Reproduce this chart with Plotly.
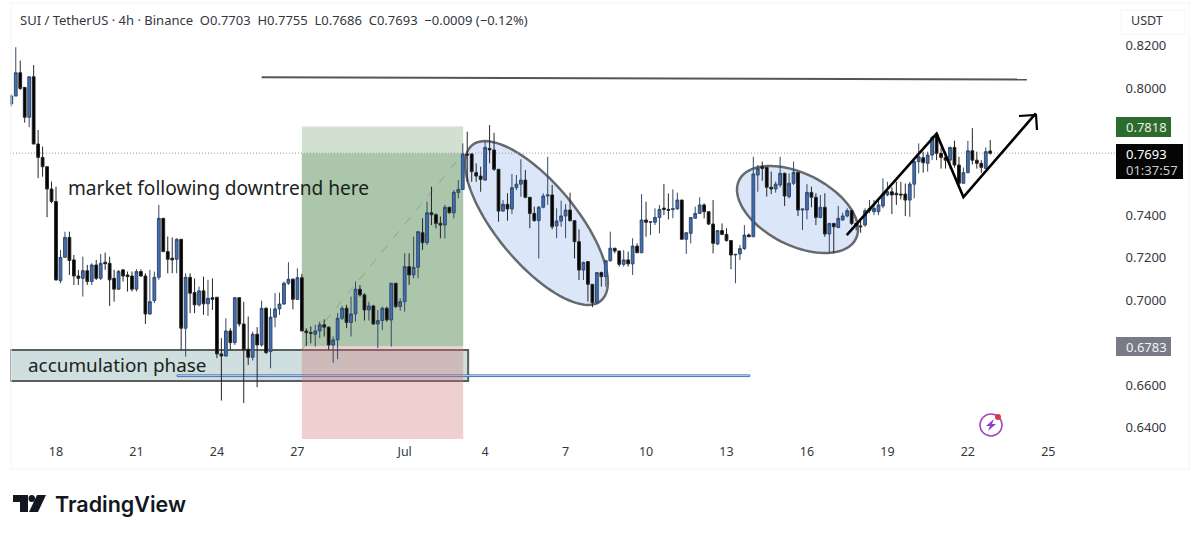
import math
import plotly.graph_objects as go

# 4h SUI/USDT candles, first bar index is -10; index 0 is 18 June 00:00
opens = [
    .7925,.7962,.8072,.8003,.7862,.8053,.7736,.7673,.7629,.7524,
    .7465,.7092,.7202,.7296,.7190,.7114,.7103,.7139,.7088,.7166,
    .7103,.7179,.7174,.7103,.7052,.7143,.7119,.7114,.7052,.7135,
    .7114,.6935,.6998,.7108,.7386,.7229,.7198,.7193,.7287,.6868,
    .7108,.7036,.6978,.7044,.6983,.7012,.7014,.6747,.6737,.6855,
    .6800,.7012,.6888,.6769,.6731,.6840,.6789,.6962,.6758,.6920,
    .6959,.6982,.7080,.7099,.7004,.7106,.6855,.6847,.6840,.6855,
    .6884,.6873,.6789,.6813,.6915,.6962,.6895,.6935,.7052,.7025,
    .6954,.6973,.6888,.6904,.6962,.6907,.7080,.6970,.6993,.7158,
    .7119,.7155,.7318,.7271,.7412,.7403,.7362,.7354,.7438,.7412,
    .7508,.7522,.7689,.7689,.7601,.7585,.7566,.7715,.7708,.7617,
    .7420,.7452,.7430,.7530,.7547,.7566,.7485,.7409,.7375,.7438,
    .7491,.7496,.7350,.7373,.7397,.7425,.7375,.7276,.7142,.7182,
    .7075,.6989,.7130,.7111,.7186,.7245,.7232,.7169,.7190,.7171,
    .7255,.7224,.7378,.7367,.7367,.7390,.7434,.7428,.7427,.7431,
    .7472,.7287,.7315,.7386,.7409,.7449,.7417,.7359,.7265,.7328,
    .7310,.7281,.7213,.7218,.7243,.7307,.7299,.7590,.7629,.7626,
    .7532,.7524,.7543,.7598,.7488,.7551,.7602,.7425,.7425,.7508,
    .7485,.7390,.7438,.7312,.7362,.7343,.7378,.7397,.7422,.7362,
    .7350,.7354,.7422,.7417,.7417,.7444,.7496,.7511,.7504,.7500,
    .7500,.7472,.7547,.7653,.7671,.7645,.7684,.7783,.7692,.7673,
    .7660,.7720,.7637,.7551,.7601,.7704,.7660,.7645,.7621,.7703,
]
highs = [
    .7970,.8192,.8129,.8003,.8053,.8108,.7802,.7724,.7629,.7559,
    .7535,.7237,.7323,.7323,.7213,.7143,.7205,.7166,.7174,.7190,
    .7218,.7224,.7205,.7143,.7143,.7146,.7135,.7135,.7146,.7146,
    .7127,.7143,.7135,.7449,.7386,.7300,.7296,.7292,.7287,.7127,
    .7127,.7103,.7064,.7111,.7096,.7103,.7014,.6821,.6915,.6868,
    .7012,.7012,.6993,.6923,.6852,.6873,.6998,.6967,.6962,.7033,
    .7036,.7088,.7179,.7103,.7150,.7124,.6868,.6876,.6884,.6899,
    .6910,.6876,.6829,.6939,.6973,.6978,.7017,.7088,.7072,.7033,
    .6993,.6978,.6954,.6970,.6970,.7080,.7080,.7009,.7221,.7221,
    .7299,.7323,.7386,.7464,.7535,.7409,.7394,.7449,.7438,.7519,
    .7566,.7739,.7794,.7692,.7645,.7629,.7747,.7825,.7789,.7617,
    .7472,.7504,.7595,.7590,.7664,.7613,.7485,.7441,.7444,.7504,
    .7676,.7543,.7433,.7469,.7453,.7507,.7375,.7334,.7182,.7182,
    .7075,.7130,.7135,.7190,.7323,.7245,.7232,.7236,.7229,.7292,
    .7268,.7500,.7464,.7373,.7433,.7449,.7547,.7503,.7522,.7507,
    .7472,.7318,.7390,.7441,.7485,.7456,.7417,.7472,.7328,.7362,
    .7339,.7281,.7218,.7260,.7354,.7315,.7676,.7637,.7653,.7626,
    .7606,.7559,.7676,.7601,.7598,.7653,.7602,.7430,.7547,.7535,
    .7504,.7496,.7504,.7362,.7362,.7444,.7412,.7433,.7422,.7362,
    .7378,.7433,.7472,.7472,.7480,.7574,.7558,.7532,.7558,.7558,
    .7550,.7558,.7660,.7739,.7700,.7700,.7775,.7786,.7720,.7700,
    .7724,.7752,.7676,.7625,.7751,.7811,.7700,.7660,.7720,.7755,
]
lows = [
    .7912,.7962,.7990,.7837,.7815,.7736,.7575,.7582,.7391,.7457,
    .7095,.7080,.7202,.7119,.7072,.7072,.7017,.7072,.7072,.7095,
    .7095,.7143,.6973,.6993,.7048,.7088,.7041,.7041,.7041,.7111,
    .6888,.6931,.6986,.7096,.7229,.7127,.7127,.7127,.6766,.6734,
    .6939,.6939,.6970,.6931,.6926,.6954,.6727,.6527,.6734,.6766,
    .6789,.6876,.6515,.6695,.6716,.6590,.6781,.6747,.6679,.6873,
    .6931,.6978,.7072,.6957,.7001,.6855,.6785,.6797,.6781,.6821,
    .6829,.6766,.6706,.6722,.6907,.6868,.6829,.6899,.7017,.6904,
    .6904,.6884,.6774,.6860,.6899,.6781,.6962,.6950,.6946,.7072,
    .7103,.7103,.7237,.7260,.7354,.7339,.7292,.7292,.7409,.7386,
    .7480,.7520,.7558,.7558,.7558,.7511,.7563,.7645,.7610,.7370,
    .7417,.7375,.7406,.7519,.7488,.7480,.7339,.7370,.7197,.7433,
    .7449,.7334,.7292,.7346,.7292,.7370,.7197,.7095,.7095,.6993,
    .6967,.6982,.7064,.7064,.7182,.7221,.7158,.7158,.7158,.7119,
    .7221,.7221,.7299,.7307,.7354,.7315,.7401,.7381,.7386,.7425,
    .7287,.7218,.7268,.7386,.7406,.7386,.7354,.7221,.7260,.7307,
    .7276,.7146,.7080,.7190,.7237,.7299,.7299,.7511,.7563,.7488,
    .7500,.7507,.7532,.7444,.7480,.7543,.7397,.7331,.7381,.7438,
    .7354,.7386,.7299,.7221,.7221,.7339,.7375,.7390,.7354,.7330,
    .7318,.7346,.7410,.7401,.7401,.7433,.7490,.7406,.7449,.7475,
    .7397,.7393,.7480,.7598,.7601,.7606,.7660,.7660,.7620,.7620,
    .7620,.7625,.7540,.7551,.7598,.7640,.7620,.7600,.7621,.7686,
]
closes = [
    .7962,.8072,.7998,.7862,.8053,.7736,.7673,.7629,.7524,.7465,
    .7095,.7202,.7296,.7187,.7114,.7103,.7139,.7088,.7166,.7103,
    .7174,.7172,.7096,.7052,.7135,.7114,.7111,.7052,.7135,.7114,
    .6935,.6993,.7108,.7386,.7229,.7193,.7190,.7287,.6868,.7108,
    .7033,.6978,.7044,.6983,.7009,.7004,.6747,.6737,.6855,.6800,
    .7012,.6888,.6766,.6731,.6840,.6789,.6962,.6753,.6920,.6959,
    .6982,.7080,.7099,.7004,.7106,.6855,.6847,.6844,.6855,.6884,
    .6873,.6789,.6813,.6915,.6962,.6895,.6935,.7052,.7025,.6954,
    .6973,.6888,.6904,.6962,.6907,.7080,.6970,.6993,.7158,.7119,
    .7155,.7323,.7271,.7412,.7403,.7362,.7354,.7438,.7412,.7508,
    .7522,.7689,.7684,.7606,.7585,.7569,.7720,.7708,.7617,.7420,
    .7452,.7430,.7530,.7547,.7566,.7485,.7409,.7375,.7438,.7491,
    .7496,.7346,.7373,.7397,.7425,.7375,.7276,.7142,.7178,.7075,
    .6989,.7130,.7111,.7186,.7245,.7232,.7169,.7190,.7171,.7255,
    .7224,.7378,.7367,.7370,.7390,.7428,.7428,.7424,.7431,.7472,
    .7287,.7318,.7390,.7409,.7449,.7417,.7359,.7268,.7328,.7310,
    .7281,.7213,.7216,.7243,.7307,.7299,.7595,.7621,.7621,.7532,
    .7524,.7547,.7598,.7491,.7551,.7602,.7425,.7430,.7508,.7485,
    .7390,.7438,.7312,.7362,.7346,.7386,.7397,.7422,.7362,.7350,
    .7346,.7422,.7433,.7433,.7449,.7500,.7511,.7496,.7497,.7496,
    .7472,.7547,.7653,.7676,.7648,.7684,.7767,.7692,.7673,.7660,
    .7720,.7637,.7551,.7601,.7704,.7660,.7645,.7626,.7700,.7693,
]
bar_index = list(range(-10, len(opens) - 10))

date_ticks = [0, 18, 36, 54, 78, 96, 114, 132, 150, 168, 186, 204, 222]
date_labels = ["18", "21", "24", "27", "Jul", "4", "7", "10", "13", "16", "19", "22", "25"]
price_ticks = [0.82, 0.80, 0.74, 0.72, 0.70, 0.66, 0.64]
price_labels = ["0.8200", "0.8000", "0.7400", "0.7200", "0.7000", "0.6600", "0.6400"]

last_price = 0.7693
target_price = 0.7818
entry_price = 0.6783
stop_price = 0.6346
resistance = [(46.0, 0.8051), (217.2, 0.8040)]
support_band = [(27.1, 0.6650), (155.2, 0.6640)]
accumulation = (-10.3, 92.2, 0.6619, 0.6765)
position_bars = (55.0, 91.1)
swing_path = [(176.9, 0.7307), (197.0, 0.7785), (203.0, 0.7486)]
swing_tip = (219.2, 0.7880)

# Plot rectangle in page pixels
W, H = 1200, 537
L, R, T, B = 10, 1116, 10, 442
BAR_PX = 4.47
PRICE_PX = 2122.0
x_range = [-(56 - L) / BAR_PX, (R - 56) / BAR_PX]
y_range = [0.80 - (B - 88) / PRICE_PX, 0.80 + (88 - T) / PRICE_PX]


def px(x):
    return (x - L) / (R - L)


def py(y):
    return (B - y) / (B - T)


def page_path(points, close=True):
    body = " L ".join(f"{px(a):.5f},{py(b):.5f}" for a, b in points)
    return "M " + body + (" Z" if close else "")


def page_ellipse(cx, cy, a, b, deg, n=96):
    """Rotated ellipse as a polygon, in page pixels."""
    th = math.radians(deg)
    pts = []
    for k in range(n):
        t = 2 * math.pi * k / n
        pts.append((cx + a * math.cos(t) * math.cos(th) - b * math.sin(t) * math.sin(th),
                    cy + a * math.cos(t) * math.sin(th) + b * math.sin(t) * math.cos(th)))
    return page_path(pts)


def page_rect(x0, y0, x1, y1, **kw):
    return dict(type="rect", xref="paper", yref="paper",
                x0=px(x0), x1=px(x1), y0=py(y0), y1=py(y1), **kw)


fig = go.Figure(go.Candlestick(
    x=bar_index, open=opens, high=highs, low=lows, close=closes,
    increasing=dict(line=dict(color="#34496b", width=1), fillcolor="#3f6fb5"),
    decreasing=dict(line=dict(color="#262626", width=1), fillcolor="#000000"),
    whiskerwidth=0, hoverinfo="skip", showlegend=False,
))

shapes = []
ellipse_style = dict(type="path", xref="paper", yref="paper", layer="below",
                     fillcolor="#dbe7f8", line=dict(color="#666a6e", width=2.5))

# Long-position tool: target zone, filled part
shapes.append(dict(type="rect", layer="below", x0=position_bars[0], x1=position_bars[1],
                   y0=last_price, y1=target_price, fillcolor="#d2e0d1", line_width=0))
shapes.append(dict(type="rect", layer="below", x0=position_bars[0], x1=position_bars[1],
                   y0=entry_price, y1=last_price, fillcolor="#abc6ab", line_width=0))
shapes.append(dict(type="line", layer="below", x0=position_bars[0], x1=position_bars[1],
                   y0=entry_price - 0.0015, y1=last_price,
                   line=dict(color="#8fa38f", width=1, dash="dash")))

# Pullback ellipses
shapes.append(dict(path=page_ellipse(536.5, 223, 101, 40, 50.4), **ellipse_style))
shapes.append(dict(path=page_ellipse(797.5, 209.5, 65.3, 35.9, 26.8), **ellipse_style))

# Accumulation box and the thin support band across it
shapes.append(dict(type="rect", layer="below", x0=accumulation[0], x1=accumulation[1],
                   y0=accumulation[2], y1=accumulation[3],
                   fillcolor="rgba(160,190,190,0.5)", line=dict(color="#5a5f5f", width=2)))
shapes.append(dict(type="rect", layer="below", x0=support_band[0][0], x1=support_band[1][0],
                   y0=support_band[1][1], y1=support_band[0][1] - 0.0002,
                   fillcolor="#eef2fa", line=dict(color="#4a70b8", width=1)))

# Stop zone of the position tool, tinting whatever lies under it
shapes.append(dict(type="rect", layer="below", x0=position_bars[0], x1=position_bars[1],
                   y0=stop_price, y1=entry_price, fillcolor="rgba(205,120,120,0.35)", line_width=0))

# Last-price line and resistance line
shapes.append(dict(type="line", layer="below", x0=x_range[0], x1=x_range[1],
                   y0=last_price, y1=last_price,
                   line=dict(color="#9a9a9a", width=1, dash="1px,2px")))
shapes.append(dict(type="line", x0=resistance[0][0], x1=resistance[1][0],
                   y0=resistance[0][1], y1=resistance[1][1],
                   line=dict(color="#555555", width=2)))

# Hand-drawn swing path with arrow head
zig = swing_path + [swing_tip]
zig_svg = "M " + " L ".join(f"{a},{b}" for a, b in zig)
shapes.append(dict(type="path", path=zig_svg, line=dict(color="#000000", width=2.6)))
shapes.append(dict(type="path", xref="paper", yref="paper",
                   path=page_path([(1019, 116), (1036, 115), (1037, 130)], close=False),
                   line=dict(color="#000000", width=2.2)))

# Faint chart frame and currency box
for seg in [(11, 3, 11, 469), (11, 469, 1189, 469), (1189, 3, 1189, 469), (11, 3, 1189, 3)]:
    shapes.append(dict(type="line", xref="paper", yref="paper", x0=px(seg[0]), y0=py(seg[1]),
                       x1=px(seg[2]), y1=py(seg[3]), line=dict(color="#f4f4f4", width=1)))
shapes.append(page_rect(1121, 10, 1185, 34, line=dict(color="#f5f5f5", width=1)))

# Price flags on the scale
shapes.append(page_rect(1116, 117, 1171, 137, fillcolor="#2d6a2d", line_width=0))
shapes.append(page_rect(1116, 144, 1183, 179, fillcolor="#050505", line_width=0))
shapes.append(page_rect(1116, 337, 1171, 356, fillcolor="#787b86", line_width=0))

# Lightning badge
shapes.append(dict(type="circle", xref="paper", yref="paper", x0=px(980), x1=px(1002),
                   y0=py(436), y1=py(414), line=dict(color="#a04cc0", width=1.6)))
shapes.append(dict(type="circle", xref="paper", yref="paper", x0=px(995), x1=px(1001),
                   y0=py(420), y1=py(414), fillcolor="#e0344a", line_width=0))
shapes.append(dict(type="path", xref="paper", yref="paper",
                   path=page_path([(994, 419), (986, 426), (990, 426), (988, 431), (996, 424), (992, 424)]),
                   fillcolor="#8a3fd0", line_width=0))

# TradingView mark
shapes.append(dict(type="path", xref="paper", yref="paper",
                   path=page_path([(13, 495), (28, 495), (28, 512), (20, 512), (20, 502), (13, 502)]),
                   fillcolor="#131722", line_width=0))
shapes.append(dict(type="circle", xref="paper", yref="paper", x0=px(28.5), x1=px(35),
                   y0=py(502), y1=py(495), fillcolor="#131722", line_width=0))
shapes.append(dict(type="path", xref="paper", yref="paper",
                   path=page_path([(37, 495), (46, 495), (38, 512), (29, 512)]),
                   fillcolor="#131722", line_width=0))


def note(x, y, text, size, color="#1c1c1c", family="Noto Sans", anchor="left", weight=None):
    font = dict(family=family, size=size, color=color)
    if weight:
        font["weight"] = weight
    return dict(xref="paper", yref="paper", x=px(x), y=py(y), text=text, showarrow=False,
                xanchor=anchor, yanchor="middle", align=anchor, font=font)


annotations = [
    note(18, 20, "SUI / TetherUS · 4h · Binance&#160;&#160;O0.7703&#160;&#160;H0.7755&#160;&#160;L0.7686&#160;&#160;C0.7693&#160;&#160;−0.0009 (−0.12%)",
         13, "#33373f"),
    note(66, 188, "market following downtrend here", 19.1, "#1a241c"),
    note(26, 365, "accumulation phase", 18.9, "#1a241c"),
    note(1147, 21, "USDT", 12.5, "#33373f", anchor="center"),
    note(1146, 127, "0.7818", 13, "#e8f3e6", anchor="center"),
    note(1146, 154, "0.7693", 13, "#ffffff", anchor="center"),
    note(1152, 170, "01:37:57", 13, "#c9c9c9", anchor="center"),
    note(1146, 347, "0.6783", 13, "#f2f2f4", anchor="center"),
    note(53, 504, "TradingView", 21.5, "#131722", family="Inter", weight=600),
]

fig.update_layout(
    width=W, height=H,
    margin=dict(l=L, r=W - R, t=T, b=H - B, pad=0),
    paper_bgcolor="#ffffff", plot_bgcolor="#ffffff",
    showlegend=False, hovermode=False, boxgap=0.12,
    shapes=shapes, annotations=annotations,
    xaxis=dict(range=x_range, tickmode="array", tickvals=date_ticks, ticktext=date_labels,
               showgrid=False, zeroline=False, showline=False, ticks="", ticklen=0,
               rangeslider=dict(visible=False),
               tickfont=dict(family="Noto Sans", size=12.5, color="#33373f")),
    yaxis=dict(range=y_range, side="right", tickmode="array", tickvals=price_ticks,
               ticktext=price_labels, showgrid=False, zeroline=False, showline=False,
               ticks="outside", ticklen=6, tickcolor="rgba(0,0,0,0)",
               tickfont=dict(family="Noto Sans", size=13, color="#33373f")),
)

fig.write_html("out.html")
